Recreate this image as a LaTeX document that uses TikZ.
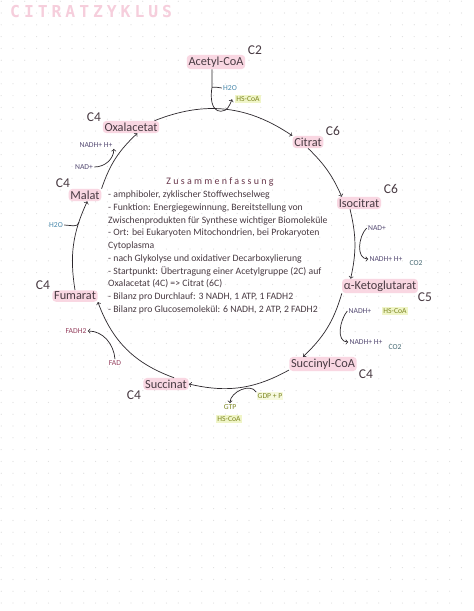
\documentclass[tikz,border=0pt]{standalone}
\usepackage{fontspec}
\setmainfont{Carlito}
\newfontfamily\titlefont[LetterSpace=24]{DejaVu Sans Mono}
\newfontfamily\headfont[LetterSpace=23]{Carlito}

\definecolor{hlpink}{RGB}{249,215,226}
\definecolor{titlepink}{RGB}{246,206,220}
\definecolor{ink}{RGB}{72,58,66}
\definecolor{linec}{RGB}{45,40,45}
\definecolor{h2oc}{RGB}{70,135,170}
\definecolor{olivec}{RGB}{125,135,35}
\definecolor{hlyel}{RGB}{240,245,200}
\definecolor{nadc}{RGB}{85,75,115}
\definecolor{co2c}{RGB}{70,105,115}
\definecolor{fadc}{RGB}{150,65,95}
\definecolor{headc}{RGB}{105,55,75}
\definecolor{dotc}{RGB}{222,222,222}

\begin{document}
\begin{tikzpicture}[x=0.03cm,y=0.03cm,
    metab/.style={fill=hlpink,rounded corners=3pt,inner sep=1.5pt,text=ink,font=\fontsize{10.5}{12}\selectfont},
    cnum/.style={text=ink,inner sep=0pt,font=\fontsize{11.5}{13}\selectfont},
    cofac/.style={inner sep=1pt,font=\fontsize{6.5}{7.5}\selectfont},
    hscoa/.style={cofac,text=olivec,fill=hlyel},
    rxn/.style={->,draw=linec,line width=0.6pt}]
  \useasboundingbox (0,0) rectangle (474,-611);
  \fill[white] (0,0) rectangle (474,-611);
  \foreach \i in {0,...,39}
    \foreach \j in {0,...,51}
      \fill[dotc] (1.2+11.8*\i,-1.2-11.8*\j) circle (0.6);

  \node[anchor=west,inner sep=0pt,font=\titlefont\bfseries\fontsize{14}{16}\selectfont,text=titlepink] (title) at (10,-12) {CITRATZYKLUS};

  % metabolites
  \node[metab] (aco) at (216,-62) {Acetyl-CoA};
  \node[cnum] (acoC) at (255,-50) {C2};
  \node[metab] (oxa) at (131,-127) {Oxalacetat};
  \node[cnum] (oxaC) at (94,-117) {C4};
  \node[metab] (cit) at (308,-142) {Citrat};
  \node[cnum] (citC) at (333,-131) {C6};
  \node[metab] (iso) at (359,-203) {Isocitrat};
  \node[cnum] (isoC) at (391,-189) {C6};
  \node[metab] (ake) at (380,-286) {α-Ketoglutarat};
  \node[cnum] (akeC) at (425,-297) {C5};
  \node[metab] (scoa) at (323,-364) {Succinyl-CoA};
  \node[cnum] (scoaC) at (366,-374) {C4};
  \node[metab] (succ) at (166,-384) {Succinat};
  \node[cnum] (succC) at (134,-395) {C4};
  \node[metab] (fum) at (75,-296) {Fumarat};
  \node[cnum] (fumC) at (43,-285) {C4};
  \node[metab] (mal) at (85,-195) {Malat};
  \node[cnum] (malC) at (63,-183) {C4};

  \draw[rxn] (oxa.15) to[bend left=28] (cit.north west);
  \draw[rxn] (cit.south) to[bend left=11] (iso.160);
  \draw[rxn] (iso.215) to[bend left=13] (ake.166);
  \draw[rxn] (ake.south west) to[bend left=15] (scoa.160);
  \draw[rxn] (scoa.190) to[bend left=21] (succ.east);
  \draw[rxn] (succ.38) to[bend left=25] (fum.south east);
  \draw[rxn] (fum.north) to[bend left=17] (mal.-70);
  \draw[rxn] (mal.north east) to[bend left=14] (oxa.-45);

  % cofactors
  \coordinate (ctr) at (214,-251);
  \coordinate (h2oJ) at ([shift={(168:138)}]ctr);
  \node[cofac,text=h2oc] (h2oa) at (230,-88) {H2O};
  \node[hscoa] (hsa) at (248,-99) {HS-CoA};
  \node[cofac,text=nadc] (nadh1) at (96,-145) {NADH+ H+};
  \node[cofac,text=nadc] (nad1) at (84,-167) {NAD+};
  \node[cofac,text=h2oc] (h2ob) at (56,-225) {H2O};
  \node[cofac,text=fadc] (fadh) at (76,-331) {FADH2};
  \node[cofac,text=fadc] (fad) at (115,-363) {FAD};
  \node[cofac,text=olivec,fill=hlyel!60] (gdp) at (270,-396) {GDP + P};
  \node[cofac,text=olivec] (gtp) at (230,-407) {GTP};
  \node[hscoa] (hsb) at (229,-419) {HS-CoA};
  \node[cofac,text=nadc] (nad3) at (360,-311) {NADH+};
  \node[hscoa] (hsc) at (395,-311) {HS-CoA};
  \node[cofac,text=nadc] (nadh3) at (366,-342) {NADH+ H+};
  \node[cofac,text=co2c] (co2b) at (395,-347) {CO2};
  \node[cofac,text=nadc] (nad2) at (377,-228) {NAD+};
  \node[cofac,text=nadc] (nadh2) at (386,-259) {NADH+ H+};
  \node[cofac,text=co2c] (co2a) at (416,-263) {CO2};

  \draw[rxn] ([xshift=-0.12cm]aco.south) -- ++(0,-18) coordinate (acoJ) to[out=-100,in=180] ++(9,-24) to[out=0,in=-110] ++(11,12);
  \draw[draw=linec,line width=0.6pt] (h2oa.west) to[out=185,in=20] (acoJ);
  \draw[rxn] (nad1.east) to[out=0,in=-90] (nadh1.south east);
  \draw[draw=linec,line width=0.6pt] (h2ob.east) to[out=0,in=258] (h2oJ);
  \draw[rxn] (fad.north) to[out=95,in=0] (fadh.east);
  \draw[rxn] (gdp.north west) to[out=120,in=90] (gtp.north);
  \draw[rxn] (nad3.west) to[out=230,in=180] (nadh3.west);
  \draw[rxn] (nad2.west) to[out=225,in=180] (nadh2.west);

  % summary
  \node[font=\headfont\fontsize{8.5}{10}\selectfont,text=headc] (sumhead) at (220,-182) {Zusammenfassung};
  \node[anchor=north west,align=left,inner sep=0pt,text=ink,font=\fontsize{8.3}{10.9}\selectfont] (sumtext) at (108,-190.5) {%
    - amphiboler, zyklischer Stoffwechselweg\\
    - Funktion: Energiegewinnung, Bereitstellung von\\
    Zwischenprodukten für Synthese wichtiger Biomoleküle\\
    - Ort: bei Eukaryoten Mitochondrien, bei Prokaryoten\\
    Cytoplasma\\
    - nach Glykolyse und oxidativer Decarboxylierung\\
    - Startpunkt: Übertragung einer Acetylgruppe (2C) auf\\
    Oxalacetat (4C) => Citrat (6C)\\
    - Bilanz pro Durchlauf: 3 NADH, 1 ATP, 1 FADH2\\
    - Bilanz pro Glucosemolekül: 6 NADH, 2 ATP, 2 FADH2};
\end{tikzpicture}
\end{document}
